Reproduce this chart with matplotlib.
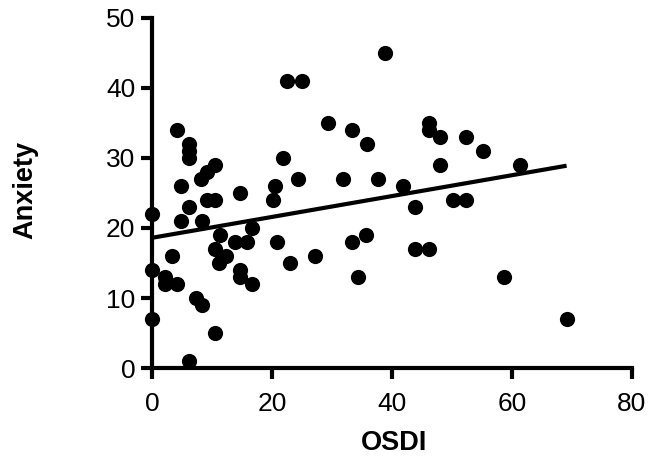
import matplotlib
matplotlib.use("Agg")
import matplotlib.pyplot as plt
from matplotlib import font_manager

# donnees
osdi = [22.5, 25.0, 4.1, 6.2, 6.2, 6.2, 10.5, 9.2, 8.2, 4.9,
        21.9, 20.5, 14.7, 24.4, 20.1, 0.0, 6.2, 9.1, 10.5, 4.9,
        8.3, 11.3, 16.6, 13.8, 15.9, 20.8, 10.5, 12.4, 11.2, 23.0,
        3.4, 0.0, 2.2, 2.2, 4.1, 14.7, 14.7, 16.6, 7.4, 8.3,
        0.0, 10.5, 6.2, 38.8, 29.3, 33.4, 35.9, 46.1, 46.1, 48.0,
        48.0, 31.9, 37.6, 41.9, 43.9, 50.2, 33.4, 35.6, 27.2, 34.3,
        43.9, 46.1, 52.3, 55.2, 61.4, 52.4, 58.7, 69.1]
anxiety = [41, 41, 34, 32, 31, 30, 29, 28, 27, 26,
           30, 26, 25, 27, 24, 22, 23, 24, 24, 21,
           21, 19, 20, 18, 18, 18, 17, 16, 15, 15,
           16, 14, 13, 12, 12, 14, 13, 12, 10, 9,
           7, 5, 1, 45, 35, 34, 32, 35, 34, 33,
           29, 27, 27, 26, 23, 24, 18, 19, 16, 13,
           17, 17, 33, 31, 29, 24, 13, 7]

# droite de regression
intercept = 18.6
slope = 0.149

x_ticks = [0, 20, 40, 60, 80]
y_ticks = [0, 10, 20, 30, 40, 50]

noms = [f.name for f in font_manager.fontManager.ttflist]
police = "Liberation Sans Narrow" if "Liberation Sans Narrow" in noms else "Liberation Sans"

fig = plt.figure(figsize=(6.49, 4.57), dpi=100)
ax = fig.add_axes([0.2342, 0.1947, 0.7396, 0.766])

ax.scatter(osdi, anxiety, s=120, color="black", zorder=3, clip_on=False, linewidths=0)
x_fit = [0, max(osdi)]
y_fit = [intercept + slope * v for v in x_fit]
ax.plot(x_fit, y_fit, color="black", linewidth=3, solid_capstyle="butt", zorder=2)

ax.set_xlim(0, 80)
ax.set_ylim(0, 50)
ax.set_xticks(x_ticks)
ax.set_yticks(y_ticks)

for s in ["top", "right"]:
    ax.spines[s].set_visible(False)
for s in ["left", "bottom"]:
    ax.spines[s].set_linewidth(3)
ax.tick_params(axis="both", direction="out", length=8, width=3)
ax.tick_params(axis="x", pad=9)
ax.tick_params(axis="y", pad=4)

for lab in ax.get_xticklabels() + ax.get_yticklabels():
    lab.set_fontfamily(police)
    lab.set_fontsize(19)

ax.set_xlabel("OSDI", fontsize=19.5, fontweight="bold", family="Liberation Sans")
ax.set_ylabel("Anxiety", fontsize=19.5, fontweight="bold", family="Liberation Sans")
ax.xaxis.set_label_coords(0.505, -0.177)
ax.yaxis.set_label_coords(-0.236, 0.509)

fig.savefig("out.png", dpi=100)
